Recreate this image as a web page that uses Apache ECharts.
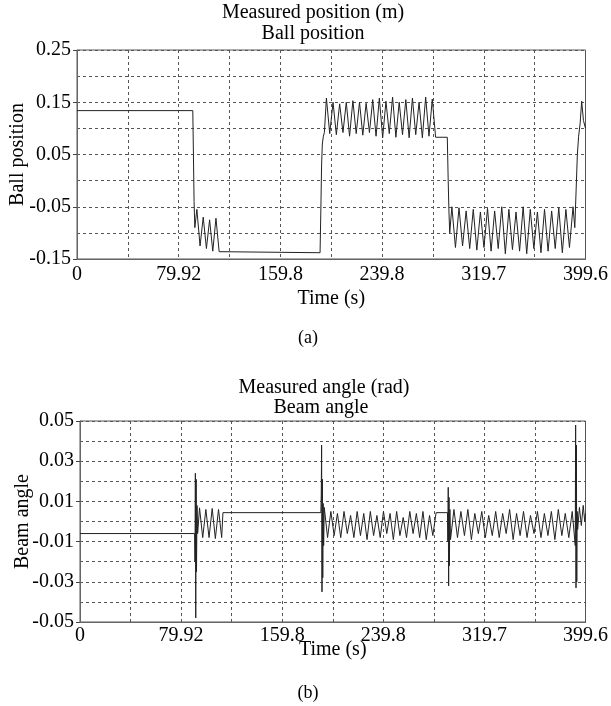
<!DOCTYPE html>
<html><head><meta charset="utf-8">
<script src="https://cdn.jsdelivr.net/npm/echarts@6/dist/echarts.min.js"></script>
<style>html,body{margin:0;padding:0;background:#fff}#c{width:611px;height:706px}</style>
</head><body><div id="c"></div>
<script>
// ---- data ----
const xTickLabels = ['0', '79.92', '159.8', '239.8', '319.7', '399.6'];
const posTickLabels = ['-0.15', '-0.05', '0.05', '0.15', '0.25'];
const angTickLabels = ['-0.05', '-0.03', '-0.01', '0.01', '0.03', '0.05'];

const posTime = [0, 91, 91.5, 92, 92.6,
  94.2, 96.7, 99.2, 101.7, 104.2, 106.7, 109.2, 111.7, 113.2,
  191, 191.6, 192.2, 192.8, 193.6, 194.4,
  196.0, 198.6, 201.2, 203.8, 206.4, 209.0, 211.6, 214.2, 216.8, 219.4, 222.0, 224.6, 227.2, 229.8,
  232.4, 235.0, 237.6, 240.2, 242.8, 245.4, 248.0, 250.6, 253.2, 255.8, 258.4, 261.0, 263.6, 266.2,
  268.8, 271.4, 274.0, 276.6, 279.2, 281.8,
  291.0, 291.7, 292.3, 292.9,
  294.6, 297.4, 300.2, 303.0, 305.8, 308.6, 311.4, 314.2, 317.0, 319.8, 322.6, 325.4, 328.2, 331.0,
  333.8, 336.6, 339.4, 342.2, 345.0, 347.8, 350.6, 353.4, 356.2, 359.0, 361.8, 364.6, 367.4, 370.2,
  373.0, 375.8, 378.6, 381.4, 384.2, 387.0, 389.8, 391.2,
  392.2, 393.2, 394.2, 395.4, 396.6, 398.0, 399.6];
const posValue = [0.134, 0.134, 0.05, -0.04, -0.09,
  -0.055, -0.125, -0.07, -0.13, -0.075, -0.135, -0.072, -0.136, -0.138,
  -0.138, -0.06, 0.03, 0.07, 0.085, 0.092,
  0.158, 0.090, 0.150, 0.088, 0.147, 0.092, 0.150, 0.085, 0.153, 0.090, 0.150, 0.087, 0.148, 0.092,
  0.155, 0.085, 0.158, 0.082, 0.152, 0.090, 0.160, 0.083, 0.150, 0.088, 0.155, 0.082, 0.158, 0.088,
  0.150, 0.082, 0.160, 0.085, 0.156, 0.083,
  0.083, 0.0, -0.06, -0.1,
  -0.05, -0.128, -0.052, -0.125, -0.058, -0.13, -0.055, -0.133, -0.06, -0.128, -0.053, -0.135, -0.058, -0.13,
  -0.05, -0.14, -0.055, -0.132, -0.06, -0.135, -0.05, -0.14, -0.055, -0.13, -0.06, -0.138, -0.055, -0.135,
  -0.058, -0.13, -0.052, -0.138, -0.055, -0.128, -0.05, -0.09,
  -0.02, 0.05, 0.085, 0.11, 0.152, 0.115, 0.10];

const angTime = [0, 90.6, 90.9, 91.2, 91.5, 91.8, 92.1, 92.5, 93.0,
  94.5, 97.0, 99.5, 102.0, 104.5, 107.0, 109.5, 112.0, 113.0,
  190.4, 190.7, 191.0, 191.3, 191.6, 191.9, 192.2, 192.6, 193.1,
  195.7, 198.3, 200.9, 203.5, 206.1, 208.7, 211.3, 213.9, 216.5, 219.1, 221.7, 224.3, 226.9, 229.5,
  232.1, 234.7, 237.3, 239.9, 242.5, 245.1, 247.7, 250.3, 252.9, 255.5, 258.1, 260.7, 263.3, 265.9,
  268.5, 271.1, 273.7, 276.3, 278.9, 281.5,
  290.5, 290.8, 291.1, 291.4, 291.7, 292.0, 292.4, 292.9,
  295.6, 298.4, 301.1, 303.9, 306.6, 309.4, 312.1, 314.9, 317.6, 320.4, 323.1, 325.9, 328.6, 331.4,
  334.1, 336.9, 339.6, 342.4, 345.1, 347.9, 350.6, 353.4, 356.1, 358.9, 361.6, 364.4, 367.1, 369.9,
  372.6, 375.4, 378.1, 380.9, 383.6, 386.4, 389.1,
  391.5, 391.8, 392.1, 392.4, 392.7, 393.0, 393.4,
  394.8, 396.3, 397.8, 399.0, 399.6];
const angValue = [-0.006, -0.006, -0.02, 0.024, -0.048, 0.021, -0.025, 0.008, -0.006,
  0.0068, -0.008, 0.006, -0.008, 0.0065, -0.0085, 0.006, -0.008, 0.0044,
  0.0044, 0.013, 0.038, -0.035, 0.021, -0.028, 0.009, -0.012, 0.007,
  -0.008, 0.005, -0.007, 0.004, -0.008, 0.005, -0.006, 0.003, -0.008, 0.005, -0.007, 0.004, -0.009, 0.005,
  -0.007, 0.003, -0.008, 0.005, -0.006, 0.004, -0.009, 0.005, -0.007, 0.002, -0.008, 0.005, -0.006, 0.004,
  -0.008, 0.005, -0.009, 0.003, -0.007, 0.0044,
  0.0044, -0.01, 0.017, -0.032, 0.012, -0.022, 0.006, -0.009,
  0.006, -0.008, 0.005, -0.007, 0.006, -0.009, 0.004, -0.006, 0.005, -0.008, 0.003, -0.007, 0.005, -0.008,
  0.004, -0.006, 0.006, -0.009, 0.004, -0.007, 0.005, -0.008, 0.003, -0.006, 0.005, -0.008, 0.004, -0.007,
  0.005, -0.009, 0.006, -0.007, 0.004, -0.008, 0.005,
  -0.012, 0.048, -0.033, 0.038, -0.03, 0.005, -0.004,
  0.007, -0.002, 0.008, 0.0, 0.004];

// ---- chart ----
const FONT = '"Liberation Serif", "Times New Roman", serif';
const TXT = { color: '#000', fontFamily: FONT, fontSize: 20 };
const pair = (t, v) => t.map((x, i) => [x, v[i]]);
const dashed = { show: true, lineStyle: { color: '#555', type: [3, 3], width: 1 } };

function xAxis(gi, gap, margin) {
  return {
    type: 'value', gridIndex: gi, min: 0, max: 399.6, interval: 39.96,
    axisLine: { show: true, onZero: false, lineStyle: { color: '#666', width: 1 } },
    axisTick: { show: false },
    axisLabel: Object.assign({ margin: margin, showMinLabel: true, showMaxLabel: true,
      formatter: (v, i) => (i % 2 === 0 ? (xTickLabels[i / 2] || '') : '') }, TXT),
    splitLine: dashed,
    name: 'Time (s)', nameLocation: 'middle', nameGap: gap, nameMoveOverlap: false,
    nameTextStyle: TXT
  };
}
function yGridAxis(gi, min, max, step) {
  return {
    type: 'value', gridIndex: gi, min, max, interval: step, position: 'left',
    axisLine: { show: false }, axisTick: { show: false }, axisLabel: { show: false },
    splitLine: dashed
  };
}
function yLabelAxis(gi, min, max, step, labels, name, gap) {
  return {
    type: 'value', gridIndex: gi, min, max, interval: step, position: 'left',
    axisLine: { show: true, onZero: false, lineStyle: { color: '#666', width: 1 } },
    axisTick: { show: true, length: 4, lineStyle: { color: '#444' } },
    axisLabel: Object.assign({ margin: 6, showMinLabel: true, showMaxLabel: true,
      formatter: (v, i) => labels[i] || '' }, TXT),
    splitLine: { show: false },
    name, nameLocation: 'middle', nameGap: gap, nameMoveOverlap: false, nameTextStyle: TXT
  };
}

const chart = echarts.init(document.getElementById('c'), null, { renderer: 'canvas' });
chart.setOption({
  animation: false,
  backgroundColor: '#fff',
  grid: [
    { left: 77, top: 50, width: 510, height: 209, show: true, borderColor: '#555', borderWidth: 1, backgroundColor: 'transparent' },
    { left: 80, top: 421, width: 517, height: 201, show: true, borderColor: '#555', borderWidth: 1, backgroundColor: 'transparent' }
  ],
  xAxis: [xAxis(0, 30, 6), xAxis(1, 18, 4)],
  yAxis: [
    yGridAxis(0, -0.15, 0.25, 0.05),
    yLabelAxis(0, -0.15, 0.25, 0.1, posTickLabels, 'Ball position', 49),
    yGridAxis(1, -0.05, 0.05, 0.01),
    yLabelAxis(1, -0.05, 0.05, 0.02, angTickLabels, 'Beam angle', 47)
  ],
  series: [
    { type: 'line', xAxisIndex: 0, yAxisIndex: 0, data: pair(posTime, posValue), showSymbol: false,
      lineStyle: { color: '#222', width: 1 }, z: 5 },
    { type: 'line', xAxisIndex: 1, yAxisIndex: 2, data: pair(angTime, angValue), showSymbol: false,
      lineStyle: { color: '#222', width: 1 }, z: 5 }
  ],
  graphic: [
    { type: 'text', x: 313, y: 13, style: { text: 'Measured position (m)', textAlign: 'center', textVerticalAlign: 'middle', fill: '#000', font: '20px ' + FONT } },
    { type: 'text', x: 313, y: 34, style: { text: 'Ball position', textAlign: 'center', textVerticalAlign: 'middle', fill: '#000', font: '20px ' + FONT } },
    { type: 'text', x: 324, y: 388, style: { text: 'Measured angle (rad)', textAlign: 'center', textVerticalAlign: 'middle', fill: '#000', font: '20px ' + FONT } },
    { type: 'text', x: 321, y: 408, style: { text: 'Beam angle', textAlign: 'center', textVerticalAlign: 'middle', fill: '#000', font: '20px ' + FONT } },
    { type: 'text', x: 308, y: 338, style: { text: '(a)', textAlign: 'center', textVerticalAlign: 'middle', fill: '#000', font: '18px ' + FONT } },
    { type: 'text', x: 308, y: 693, style: { text: '(b)', textAlign: 'center', textVerticalAlign: 'middle', fill: '#000', font: '18px ' + FONT } }
  ]
});
</script>
</body></html>
